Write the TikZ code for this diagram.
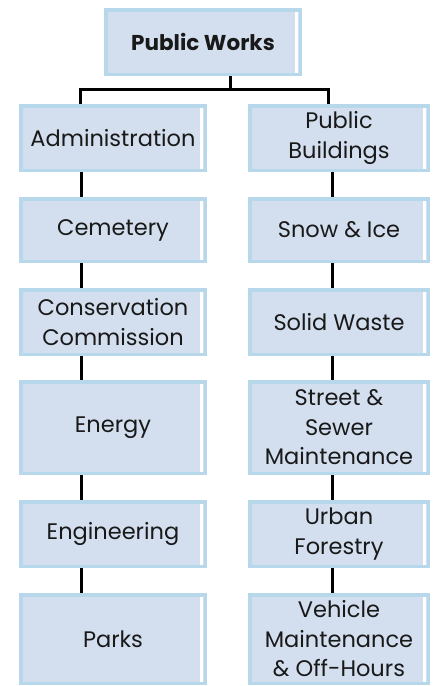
\documentclass[tikz,border=0pt]{standalone}
\usepackage{fontspec}
\setmainfont{Poppins}
\usepackage{tikz}
\usetikzlibrary{positioning, calc}

\definecolor{boxline}{HTML}{B6D8EA}
\definecolor{boxfill}{HTML}{D3DFEE}

\tikzset{
  unit/.style={draw=boxline, fill=boxfill, line width=3.5pt, rectangle, align=center,
    inner sep=0pt, text=black!90, font=\fontsize{22.5}{29.5}\selectfont},
  leftunit/.style={unit, minimum width=184.5pt},
  rightunit/.style={unit, minimum width=178.5pt},
  link/.style={line width=3pt, black}
}

\begin{document}
\begin{tikzpicture}[x=1pt, y=-1pt]
\useasboundingbox (0,0) rectangle (432,686);
\node[unit, minimum width=194.5pt, minimum height=64.5pt, font=\fontsize{21.5}{28}\selectfont\bfseries] (pw) at (203,42) {Public Works};

\node[leftunit, minimum height=64.5pt] (admin) at (113,138) {Administration};
\node[leftunit, minimum height=62.5pt] (cem) at (113,230) {Cemetery};
\node[leftunit, minimum height=64.5pt] (cons) at (113,322) {Conservation\\Commission};
\node[leftunit, minimum height=91.5pt] (energy) at (113,427.5) {Energy};
\node[leftunit, minimum height=64.5pt] (eng) at (113,534) {Engineering};
\node[leftunit, minimum height=88.5pt] (parks) at (113,639) {Parks};

\node[rightunit, minimum height=64.5pt] (pubb) at (339,138) {Public\\Buildings};
\node[rightunit, minimum height=62.5pt] (snow) at (339,230) {Snow \& Ice};
\node[rightunit, minimum height=64.5pt] (waste) at (339,322) {Solid Waste};
\node[rightunit, minimum height=91.5pt] (street) at (339,427.5) {Street \&\\Sewer\\Maintenance};
\node[rightunit, minimum height=64.5pt] (forest) at (339,534) {Urban\\Forestry};
\node[rightunit, minimum height=88.5pt] (vehicle) at (339,639) {Vehicle\\Maintenance\\\& Off-Hours};

\foreach \n in {pw,admin,cem,cons,energy,eng,parks,pubb,snow,waste,street,forest,vehicle}
  \draw[white, line width=2.5pt] ([xshift=-5.5pt,yshift=-3.5pt]\n.north east) -- ([xshift=-5.5pt,yshift=3.5pt]\n.south east);

\coordinate (bus) at (230,89);
\draw[link] ([xshift=27pt]pw.south) -- (bus);
\draw[link] (bus) -| ([xshift=-33pt]admin.north);
\draw[link] (bus) -| ([xshift=-11pt]pubb.north);

\foreach \a/\b in {admin/cem,cem/cons,cons/energy,energy/eng,eng/parks}
  \draw[link] ([xshift=-32pt]\a.south) -- ([xshift=-32pt]\b.north);
\foreach \a/\b in {pubb/snow,snow/waste,waste/street,street/forest,forest/vehicle}
  \draw[link] ([xshift=-7pt]\a.south) -- ([xshift=-7pt]\b.north);
\end{tikzpicture}
\end{document}
